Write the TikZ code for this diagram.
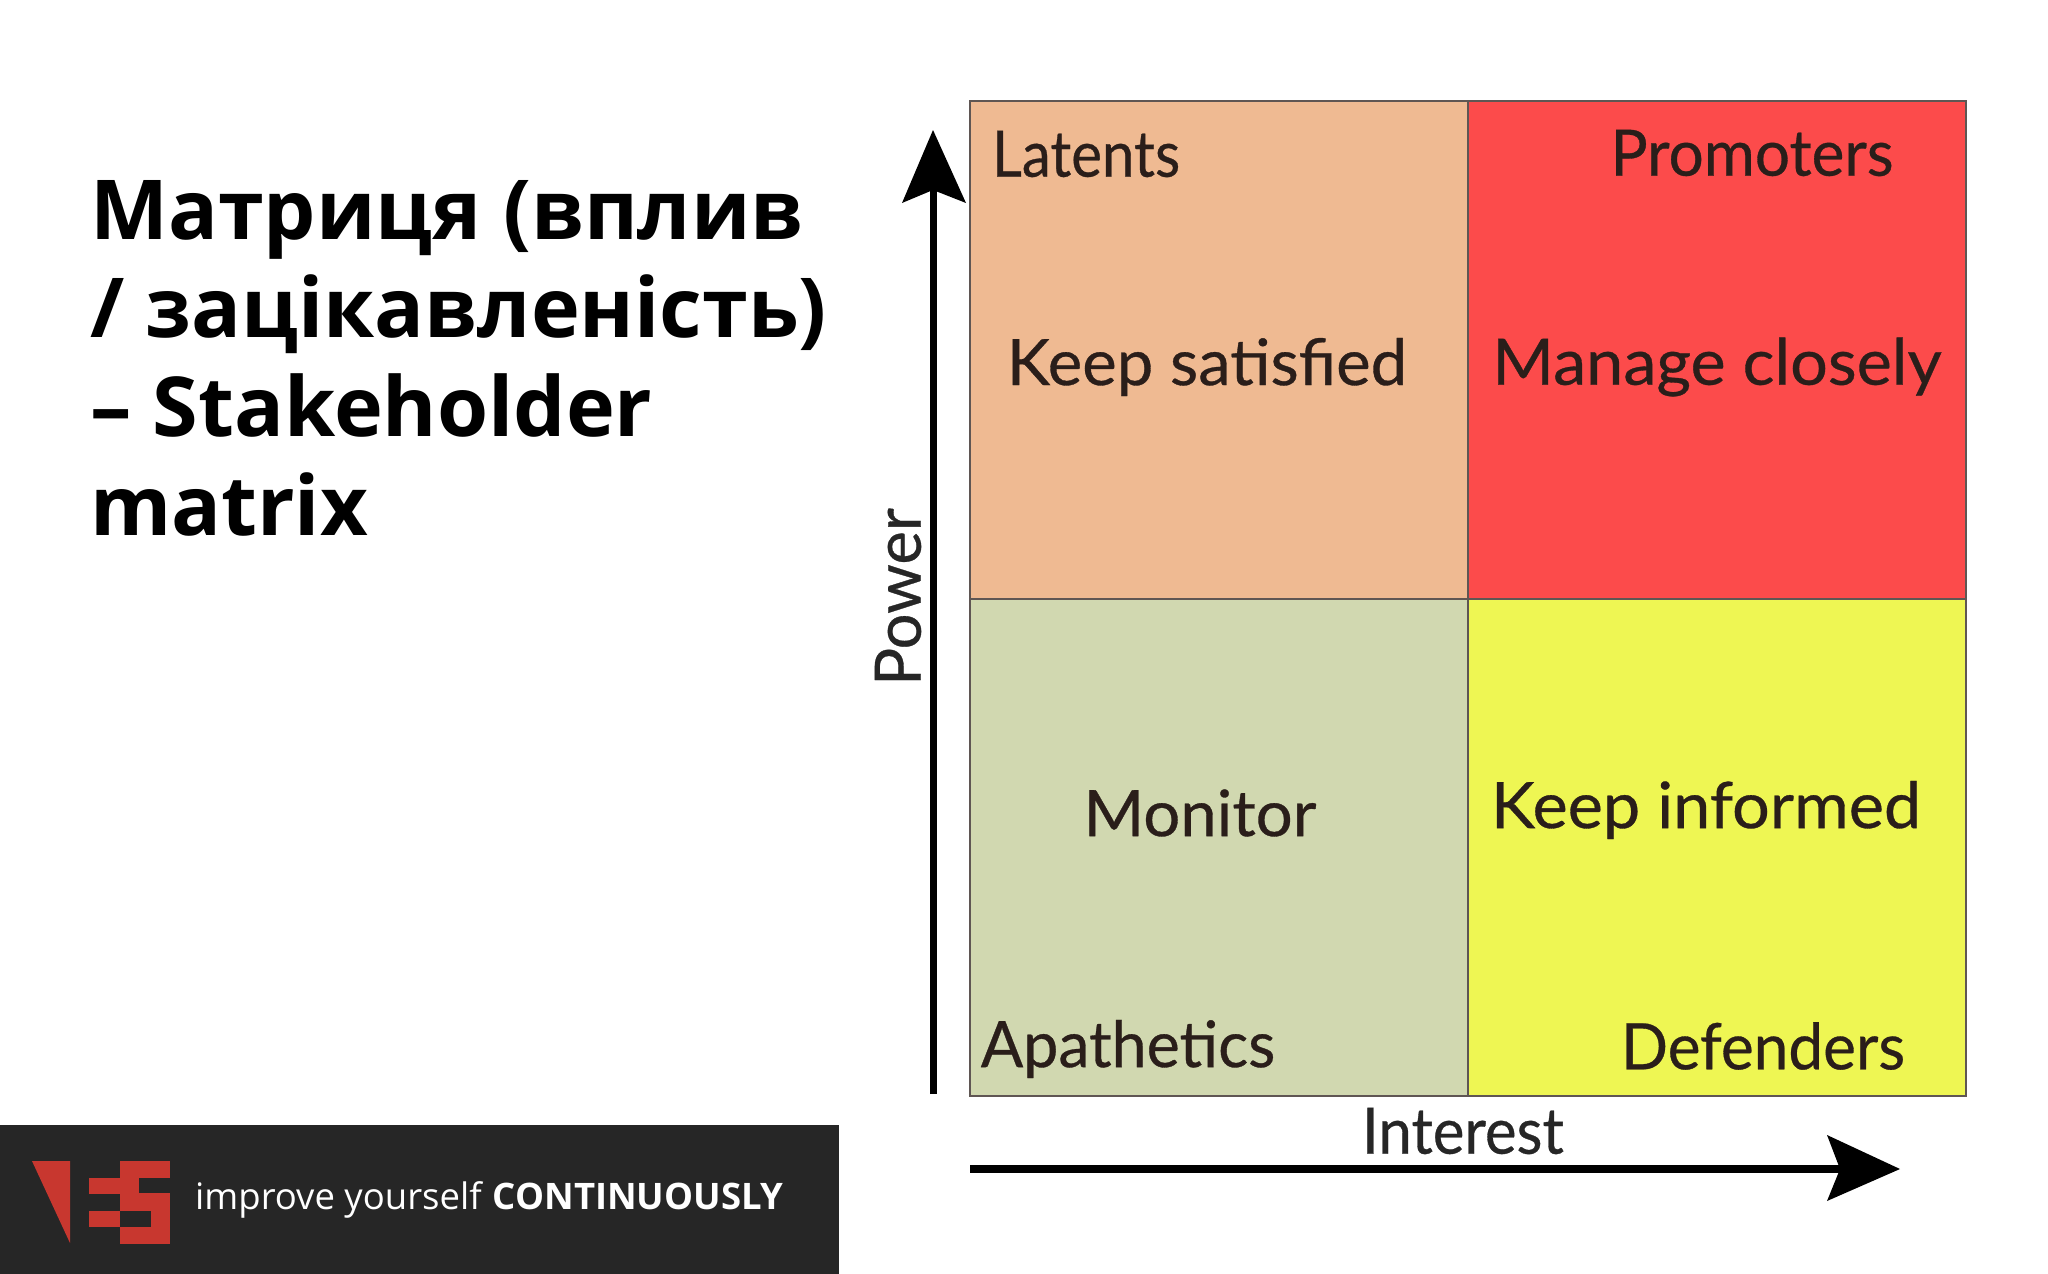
\documentclass[tikz,border=0pt]{standalone}
\usepackage{fontspec}
\setmainfont{Open Sans}
\newfontfamily\fut[FakeBold=0.5]{Lato}
\usetikzlibrary{arrows.meta}
\definecolor{qpeach}{HTML}{EFBA92}
\definecolor{qred}{HTML}{FC4B4B}
\definecolor{qsage}{HTML}{D1D8B0}
\definecolor{qyellow}{HTML}{EEF653}
\definecolor{foot}{HTML}{262626}
\definecolor{logored}{HTML}{C8372F}
\definecolor{ink}{HTML}{2A1E1A}
\tikzset{
 quad/.style={draw=ink!75,line width=2pt},
 lab/.style={inner sep=0,text=ink,font=\fut\fontsize{64}{64}\selectfont},
 axis/.style={line width=7pt,draw=black},
 tip/.style={fill=black,draw=none},
}
\begin{document}
\begin{tikzpicture}[x=1pt,y=-1pt]
\useasboundingbox (0,0) rectangle (2048,1274);
\fill[white] (0,0) rectangle (2048,1274);
% title
\node[anchor=north west,inner sep=0,align=left,font=\bfseries\fontsize{82.7}{98.6}\selectfont] (title) at (90,180)
 {Матриця (вплив\\/ зацікавленість)\\– Stakeholder\\matrix};
% quadrants
\path[quad,fill=qpeach] (970,101) rectangle (1468,599);
\path[quad,fill=qred] (1468,101) rectangle (1966,599);
\path[quad,fill=qsage] (970,599) rectangle (1468,1096);
\path[quad,fill=qyellow] (1468,599) rectangle (1966,1096);
% labels
\node[lab,anchor=center,xscale=.91] (lat) at (1086,154) {Latents};
\node[lab,anchor=center,xscale=.97] (pro) at (1752,153) {Promoters};
\node[lab,anchor=center,xscale=1.02] (ks) at (1207,367) {Keep satisfied};
\node[lab,anchor=center,xscale=1.04] (mc) at (1717,367) {Manage closely};
\node[lab,anchor=center,xscale=1.02] (mo) at (1200,813) {Monitor};
\node[lab,anchor=center,xscale=1.04] (ki) at (1706,810) {Keep informed};
\node[lab,anchor=center,xscale=.98] (ap) at (1128,1049) {Apathetics};
\node[lab,anchor=center,xscale=.97] (de) at (1763,1046) {Defenders};
\node[lab,anchor=center,xscale=.935,text=black!85] (in) at (1463,1131) {Interest};
\node[lab,anchor=center,rotate=90,text=black!85,xscale=.99] (po) at (898,597) {Power};
% axes
\coordinate (va) at (933,1094);
\coordinate (vb) at (933,190);
\coordinate (ha) at (970,1169);
\coordinate (hb) at (1840,1169);
\draw[axis] (va) -- (vb);
\fill[tip] (933,130) -- (966,203) -- (933,190) -- (902,203) -- cycle;
\draw[axis,line width=8pt] (ha) -- (hb);
\fill[tip] (1900,1169) -- (1827,1135) -- (1840,1169) -- (1827,1201) -- cycle;
% footer
\fill[foot] (0,1125) rectangle (839,1274);
\fill[logored] (32,1161) -- (70,1161) -- (70,1243) -- cycle;
\fill[logored] (120,1161) rectangle (170,1178);
\fill[logored] (89,1178) rectangle (139,1193.5);
\fill[logored] (120,1193) rectangle (170,1211);
\fill[logored] (89,1211) rectangle (120,1227);
\fill[logored] (151,1211) rectangle (170,1227.5);
\fill[logored] (120,1227) rectangle (170,1244);
\node[anchor=west,inner sep=0,text=white,font=\fontsize{36.5}{36.5}\selectfont] (tag) at (195,1200) {improve yourself \textbf{CONTINUOUSLY}};
\end{tikzpicture}
\end{document}
